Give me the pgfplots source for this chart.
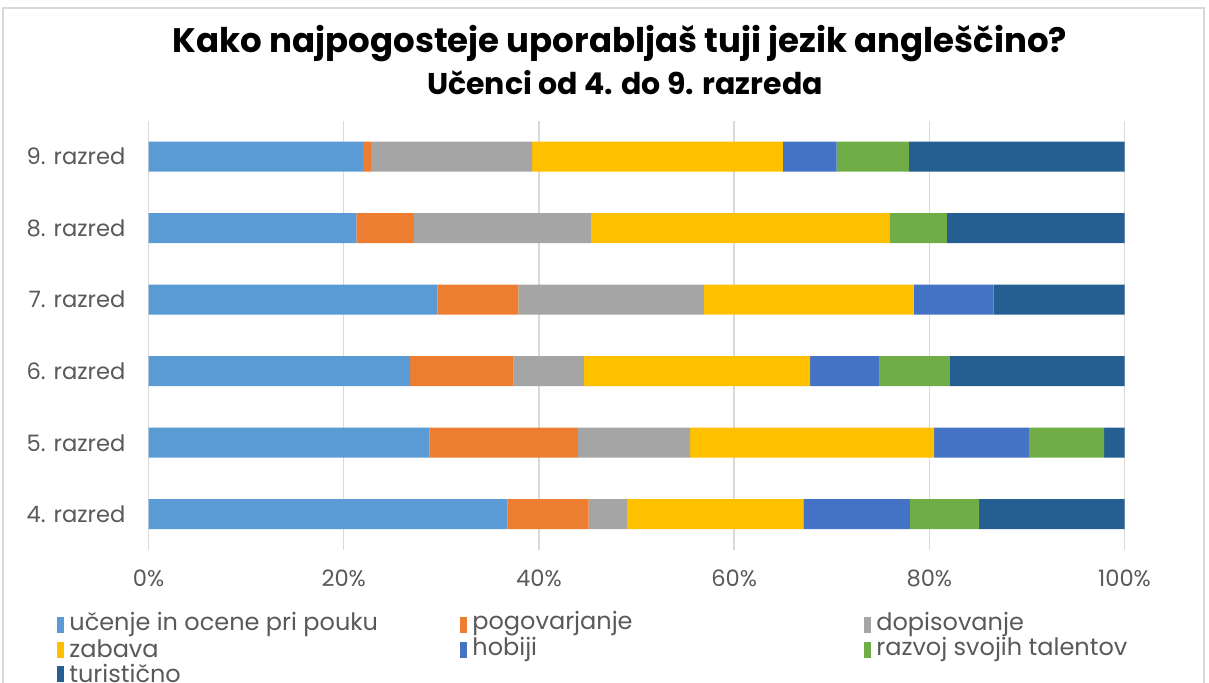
\documentclass[border=0pt]{standalone}
\usepackage{fontspec}
\setmainfont{Poppins}
\usepackage{pgfplots}
\pgfplotsset{compat=1.18}
\definecolor{sA}{HTML}{5B9BD5}
\definecolor{sB}{HTML}{ED7D31}
\definecolor{sC}{HTML}{A5A5A5}
\definecolor{sD}{HTML}{FFC000}
\definecolor{sE}{HTML}{4472C4}
\definecolor{sF}{HTML}{70AD47}
\definecolor{sG}{HTML}{255E91}
\definecolor{gridgray}{HTML}{D9D9D9}
\definecolor{labelgray}{HTML}{595959}
\newcommand{\px}[2]{({(#1)*0.5pt},{(683-(#2))*0.5pt})}
\begin{document}
\begin{tikzpicture}
\useasboundingbox (0,0) rectangle (604.5pt,341.5pt);
\draw[gridgray, line width=0.75pt] \px{3}{700} -- \px{3}{8} -- \px{1204}{8} -- \px{1204}{700};
\node[font=\fontsize{17}{20}\selectfont\bfseries] at \px{620}{44} {Kako najpogosteje uporabljaš tuji jezik angleščino?};
\node[font=\fontsize{15}{18}\selectfont\bfseries] at \px{625}{83} {Učenci od 4. do 9. razreda};
\begin{axis}[
  at={(74.25pt,66.5pt)}, anchor=south west,
  scale only axis, width=488pt, height=214.5pt,
  xbar stacked, bar width=15pt,
  xmin=0, xmax=100, ymin=0.5, ymax=6.5,
  ytick={1,2,3,4,5,6},
  yticklabels={4. razred,5. razred,6. razred,7. razred,8. razred,9. razred},
  xtick={0,20,40,60,80,100},
  xticklabel={\pgfmathprintnumber{\tick}\%},
  xmajorgrids, grid style={draw=gridgray, line width=0.75pt},
  axis line style={draw=none},
  major tick length=0pt,
  tick label style={font=\fontsize{11.3}{13}\selectfont, text=labelgray},
  xticklabel style={yshift=-6.5pt},
  yticklabel style={xshift=-8pt},
  /pgf/number format/assume math mode=true,
  every axis plot/.append style={draw=none},
]
\addplot[fill=sA] coordinates {(36.8,1) (28.8,2) (26.8,3) (29.6,4) (21.3,5) (22.0,6)};
\addplot[fill=sB] coordinates {(8.3,1) (15.2,2) (10.6,3) (8.3,4) (5.9,5) (0.8,6)};
\addplot[fill=sC] coordinates {(4.0,1) (11.5,2) (7.2,3) (19.0,4) (18.2,5) (16.5,6)};
\addplot[fill=sD] coordinates {(18.0,1) (25.0,2) (23.2,3) (21.5,4) (30.5,5) (25.7,6)};
\addplot[fill=sE] coordinates {(10.9,1) (9.7,2) (7.1,3) (8.2,4) (0,5) (5.5,6)};
\addplot[fill=sF] coordinates {(7.1,1) (7.7,2) (7.2,3) (0,4) (5.9,5) (7.4,6)};
\addplot[fill=sG] coordinates {(14.9,1) (2.1,2) (17.9,3) (13.4,4) (18.2,5) (22.1,6)};
\end{axis}
\begin{scope}[every node/.style={anchor=west, inner sep=0pt, font=\fontsize{12}{14}\selectfont, text=labelgray}]
\fill[sA] \px{57}{617} rectangle \px{64}{633}; \node at \px{69}{624} {učenje in ocene pri pouku};
\fill[sB] \px{460}{617} rectangle \px{467}{633}; \node at \px{472}{624} {pogovarjanje};
\fill[sC] \px{864}{617} rectangle \px{871}{633}; \node at \px{876}{624} {dopisovanje};
\fill[sD] \px{57}{642} rectangle \px{64}{658}; \node at \px{69}{649} {zabava};
\fill[sE] \px{460}{642} rectangle \px{467}{658}; \node at \px{472}{649} {hobiji};
\fill[sF] \px{864}{642} rectangle \px{871}{658}; \node at \px{876}{649} {razvoj svojih talentov};
\fill[sG] \px{57}{666} rectangle \px{64}{682}; \node at \px{69}{673} {turistično};
\end{scope}
\end{tikzpicture}
\end{document}
